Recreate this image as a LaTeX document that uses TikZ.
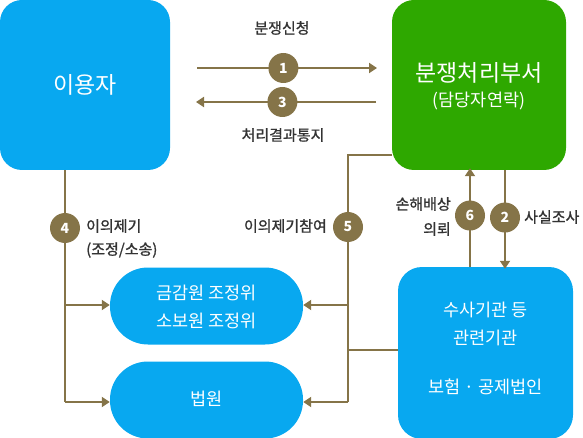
\documentclass[tikz,border=0pt]{standalone}
\usepackage{fontspec}
\setmainfont{Noto Sans CJK KR}
\newfontfamily\lblfont[FakeBold=1.2]{Noto Sans CJK KR}
\usetikzlibrary{arrows.meta,calc}
\definecolor{bluebox}{HTML}{08A8F0}
\definecolor{greenbox}{HTML}{2EA800}
\definecolor{brownline}{HTML}{857448}
\definecolor{labelgray}{HTML}{333333}
\begin{document}
\begin{tikzpicture}[x=1pt,y=-1pt,
  bbox/.style={fill=bluebox,text=white,inner sep=0pt,align=center},
  gbox/.style={fill=greenbox,text=white,inner sep=0pt,align=center},
  conn/.style={draw=brownline,line width=1.8pt},
  arr/.style={conn,-{Triangle[length=8pt,width=10pt]}},
  num/.style={circle,fill=brownline,text=white,inner sep=0pt,minimum size=30pt,font=\fontsize{14}{16}\selectfont\bfseries},
  lbl/.style={text=labelgray,font=\lblfont\fontsize{15}{18}\selectfont,inner sep=0pt},
  btxt/.style={text=white,font=\fontsize{17.5}{20}\selectfont,inner sep=0pt}]
\useasboundingbox (0,0) rectangle (583,438);
% boxes
\node[bbox,rounded corners=22pt,minimum width=170pt,minimum height=170pt,font=\fontsize{23}{26}\selectfont] (user) at (85,85) {이용자};
\node[gbox,rounded corners=22pt,minimum width=174pt,minimum height=170pt] (dept) at (479,85) {};
\node[btxt,font=\fontsize{23}{26}\selectfont] (dept1) at (479,73) {분쟁처리부서};
\node[btxt] (dept2) at (479,101) {(담당자연락)};
\node[bbox,rounded corners=38pt,minimum width=193pt,minimum height=77pt] (fss) at (206.5,306) {};
\node[btxt] (fss1) at (206.5,293) {금감원 조정위};
\node[btxt] (fss2) at (206.5,321) {소보원 조정위};
\node[bbox,rounded corners=38pt,minimum width=193pt,minimum height=77pt] (court) at (206.5,400) {};
\node[btxt] (court1) at (206.5,399) {법원};
\node[bbox,rounded corners=24pt,minimum width=175pt,minimum height=172pt] (inv) at (485.5,353) {};
\node[btxt] (inv1) at (485.5,310) {수사기관 등};
\node[btxt] (inv2) at (485.5,338) {관련기관};
\node[btxt] (inv3) at (485.5,387) {보험 · 공제법인};
% arrows 1 and 3
\coordinate (a1s) at (197,68);
\coordinate (a1e) at (377,68);
\coordinate (a3s) at (376,102);
\coordinate (a3e) at (196,102);
\draw[arr] (a1s) -- node[num,pos=0.48]{1} (a1e);
\draw[arr] (a3s) -- node[num,pos=0.52]{3} (a3e);
\node[lbl] (l1) at (282,28) {분쟁신청};
\node[lbl] (l3) at (283,135) {처리결과통지};
% line 4
\coordinate (p4top) at ($(user.south)+(-20,0)$);
\coordinate (p4a) at (65,305);
\coordinate (p4b) at (65,402);
\draw[conn] (p4top) -- (p4b);
\draw[arr] (p4a) -- (fss.west |- p4a);
\draw[arr] (p4b) -- (court.west |- p4b);
\node[num] (n4) at (65,228) {4};
\node[lbl,anchor=west] (l4a) at (86,226) {이의제기};
\node[lbl,anchor=west] (l4b) at (86,250) {(조정/소송)};
% line 5
\coordinate (p5s) at (dept.west |- 0,155);
\coordinate (p5c) at (348,155);
\coordinate (p5a) at (348,305);
\coordinate (p5b) at (348,402);
\coordinate (p5i) at (348,350);
\draw[conn] (p5s) -- (p5c) -- (p5b);
\draw[conn] (inv.west |- p5i) -- (p5i);
\draw[arr] (p5a) -- (fss.east |- p5a);
\draw[arr] (p5b) -- (court.east |- p5b);
\node[num] (n5) at (348,227) {5};
\node[lbl,anchor=east] (l5) at (327,226) {이의제기참여};
% arrows 6 and 2
\coordinate (p6) at (470,0);
\coordinate (p2) at (505,0);
\draw[arr] (inv.north -| p6) -- node[num,pos=0.52]{6} ([yshift=2pt]dept.south -| p6);
\draw[arr] (dept.south -| p2) -- node[num,pos=0.48]{2} ([yshift=-2pt]inv.north -| p2);
\node[lbl,anchor=east] (l6a) at (451,204) {손해배상};
\node[lbl,anchor=east] (l6b) at (451,229) {의뢰};
\node[lbl,anchor=west] (l2) at (524,217) {사실조사};
\end{tikzpicture}
\end{document}
